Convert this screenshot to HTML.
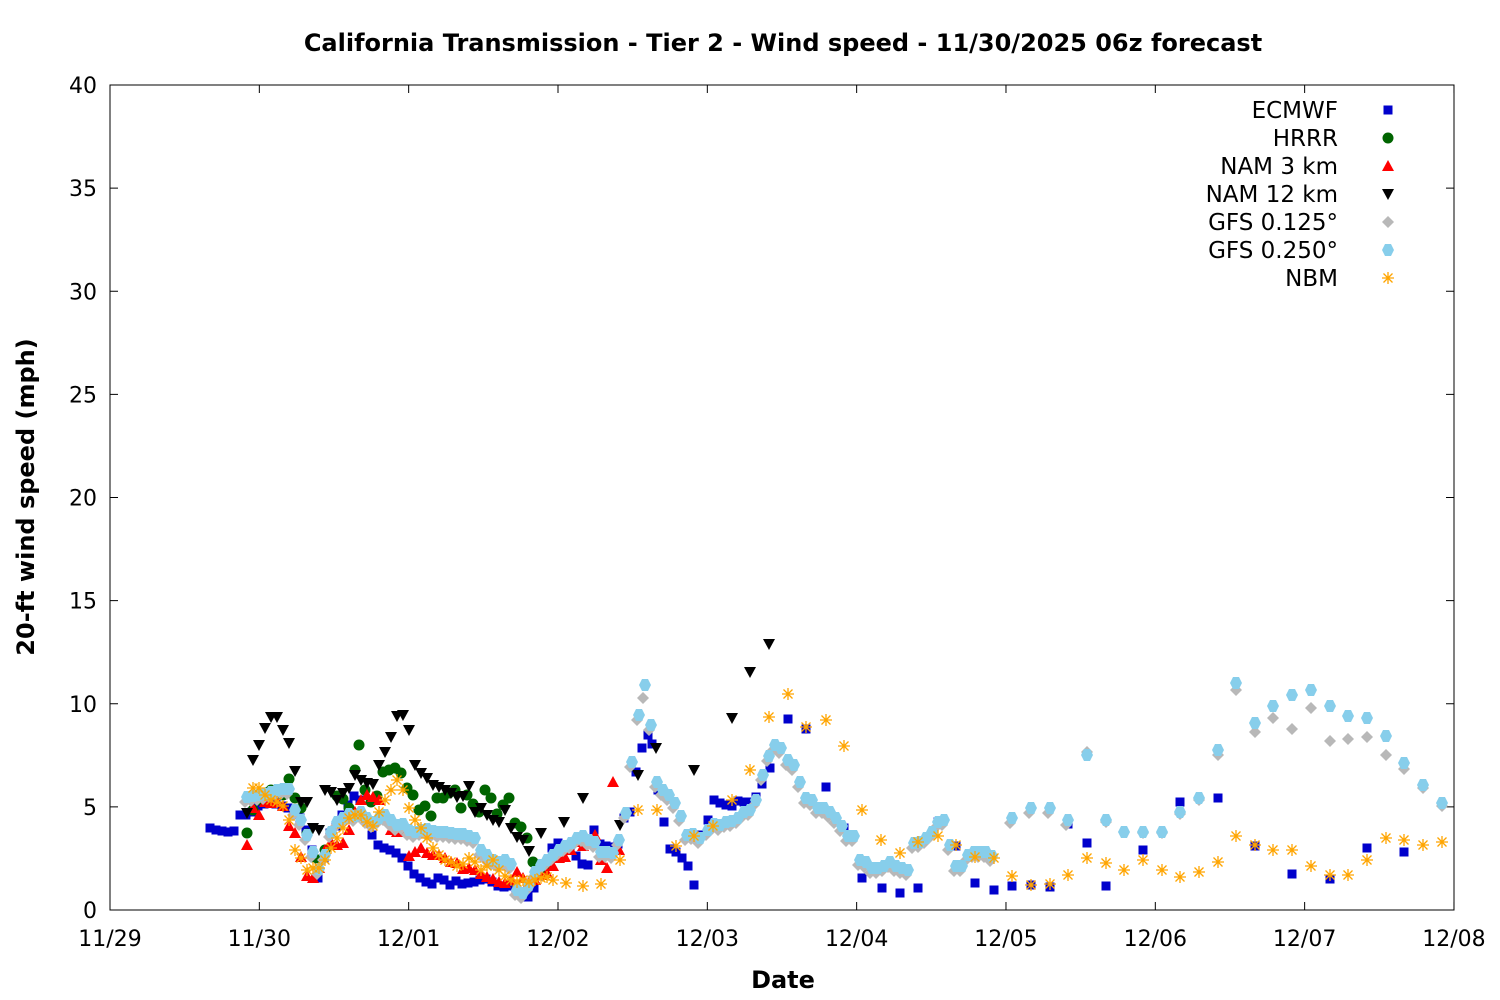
<!DOCTYPE html>
<html><head><meta charset="utf-8"><style>body{margin:0;background:#fff}svg{display:block}text{font-family:"DejaVu Sans","Liberation Sans",sans-serif}</style></head>
<body>
<svg id="s" width="1500" height="1000" xmlns="http://www.w3.org/2000/svg">
<rect width="1500" height="1000" fill="#fff"/>
<text x="783" y="51" font-size="24" font-weight="bold" text-anchor="middle">California Transmission - Tier 2 - Wind speed - 11/30/2025 06z forecast</text>
<text x="783" y="988" font-size="24" font-weight="bold" text-anchor="middle">Date</text>
<text transform="translate(34,497) rotate(-90)" font-size="24" font-weight="bold" text-anchor="middle">20-ft wind speed (mph)</text>
<g id="ax"></g>
<g id="pts"></g>
<g id="leg" font-size="23" text-anchor="end"></g>
</svg>
<script>
const NS="http://www.w3.org/2000/svg";
function el(t,a,p){const e=document.createElementNS(NS,t);for(const k in a)e.setAttribute(k,a[k]);(p||document.getElementById('pts')).appendChild(e);return e;}
const ax=document.getElementById('ax');
el('rect',{x:110,y:85,width:1344,height:825,fill:'none',stroke:'#000','stroke-width':1},ax);
for(let i=0;i<=8;i++){const y=910-i*103.125;el('line',{x1:110,x2:118,y1:y,y2:y,stroke:'#000'},ax);el('line',{x1:1446,x2:1454,y1:y,y2:y,stroke:'#000'},ax);
const t=el('text',{x:97,y:y+8,'font-size':22,'text-anchor':'end'},ax);t.textContent=i*5;}
const xl=['11/29','11/30','12/01','12/02','12/03','12/04','12/05','12/06','12/07','12/08'];
for(let i=0;i<=9;i++){const x=110+i*149.33;el('line',{x1:x,x2:x,y1:910,y2:902,stroke:'#000'},ax);el('line',{x1:x,x2:x,y1:85,y2:93,stroke:'#000'},ax);
const t=el('text',{x:x,y:946,'font-size':22,'text-anchor':'middle'},ax);t.textContent=xl[i];}
function P(s){const a=s.split(/[(),\s]+/).filter(x=>x).map(Number);const r=[];for(let i=0;i<a.length;i+=2)r.push([a[i],a[i+1]]);return r;}
const M={
sq:(x,y,c,g)=>el('rect',{x:x-4.5,y:y-4.5,width:9,height:9,fill:c},g),
ci:(x,y,c,g)=>el('circle',{cx:x,cy:y,r:5.5,fill:c},g),
tu:(x,y,c,g)=>el('polygon',{points:`${x},${y-6} ${x+6},${y+5} ${x-6},${y+5}`,fill:c},g),
td:(x,y,c,g)=>el('polygon',{points:`${x},${y+6} ${x+6},${y-5} ${x-6},${y-5}`,fill:c},g),
di:(x,y,c,g)=>el('polygon',{points:`${x},${y-6} ${x+6},${y} ${x},${y+6} ${x-6},${y}`,fill:c},g),
hx:(x,y,c,g)=>el('polygon',{points:`${x-3},${y-6} ${x+3},${y-6} ${x+6},${y} ${x+3},${y+6} ${x-3},${y+6} ${x-6},${y}`,fill:c},g),
as:(x,y,c,g)=>{el('path',{d:`M${x-6} ${y}H${x+6}M${x} ${y-6}V${y+6}M${x-4.5} ${y-4.5}L${x+4.5} ${y+4.5}M${x-4.5} ${y+4.5}L${x+4.5} ${y-4.5}`,stroke:c,'stroke-width':1.3,fill:'none'},g);}
};
const ec=P("(210,828),(216,830),(222,831),(228,832),(234,831),(240,815),(246,815),(252,812),(258,806),(264,804),(270,803),(276,804),(282,806),(288,808),(294,812),(300,818),(306,830),(312,850),(318,878),(324,858),(330,833),(336,826),(342,815),(348,805),(354,796),(360,800),(366,818),(372,835),(378,845),(384,848),(390,850),(396,853),(402,858),(408,866),(414,874),(420,878),(426,882),(432,884),(438,878),(444,880),(450,885),(456,881),(462,884),(468,883),(474,882),(480,880),(486,879),(492,882),(498,886),(504,887),(510,886),(516,890),(522,894),(528,897),(534,888),(540,876),(546,866),(552,848),(558,843),(564,845),(570,850),(576,856),(582,864),(588,865),(594,830),(600,844),(606,846),(612,847),(618,844),(624,818),(630,812),(636,772),(642,748),(648,735),(652,744),(658,790),(664,822),(670,849),(676,852),(682,858),(688,866),(694,885),(700,835),(708,820),(714,800),(720,803),(726,805),(732,806),(738,801),(744,802),(750,802),(756,797),(762,784),(770,768),(788,719),(806,729),(826,787),(844,828),(862,878),(882,888),(900,893),(918,888),(938,822),(956,846),(975,883),(994,890),(1012,886),(1031,885),(1050,887),(1068,824),(1087,843),(1106,886),(1143,850),(1180,802),(1218,798),(1255,846),(1292,874),(1330,879),(1367,848),(1404,852)");
const hr=P("(247,833),(253,810),(259,800),(265,793),(271,790),(277,793),(283,795),(289,779),(295,798),(301,808),(307,834),(313,857),(319,860),(325,850),(331,832),(337,796),(343,799),(349,808),(355,770),(359,745),(365,790),(371,802),(377,796),(383,772),(389,770),(395,768),(401,773),(407,788),(413,795),(419,810),(425,806),(431,816),(437,798),(443,798),(449,793),(455,790),(461,808),(467,795),(473,804),(479,812),(485,790),(491,798),(497,814),(503,805),(509,798),(515,823),(521,827),(527,838),(533,862),(539,873),(545,867)");
const n3=P("(247,845),(253,808),(259,815),(265,802),(271,803),(277,802),(283,806),(289,826),(295,833),(301,857),(307,876),(313,878),(319,868),(325,850),(331,842),(337,845),(343,843),(349,830),(355,812),(361,800),(367,795),(373,797),(379,800),(385,815),(391,830),(397,832),(403,830),(409,856),(415,852),(421,848),(427,853),(433,855),(439,855),(445,858),(451,862),(457,863),(463,869),(469,868),(475,870),(481,874),(487,877),(493,879),(499,882),(505,883),(511,880),(517,872),(523,878),(529,882),(535,880),(541,875),(547,873),(553,866),(559,858),(565,857),(571,850),(577,842),(583,846),(589,840),(595,835),(601,860),(607,868),(613,782),(619,850)");
const n12=P("(247,813),(253,760),(259,745),(265,728),(271,717),(277,717),(283,730),(289,743),(295,771),(301,802),(307,802),(313,828),(319,830),(325,790),(331,792),(337,800),(343,793),(349,788),(355,775),(361,780),(367,783),(373,784),(379,765),(385,752),(391,737),(397,716),(403,715),(409,730),(415,765),(421,773),(427,778),(433,785),(439,787),(445,790),(451,793),(457,797),(463,796),(469,786),(475,812),(481,808),(487,815),(493,820),(499,822),(505,810),(511,828),(517,837),(523,840),(529,851),(541,833),(564,822),(583,798),(620,825),(638,775),(656,748),(694,770),(732,718),(750,672),(769,644)");
const g25=P("(247,797),(253,796),(259,795),(265,794),(271,792),(277,790),(283,789),(289,789),(295,810),(301,820),(307,835),(313,852),(319,869),(325,855),(331,832),(337,822),(343,818),(349,814),(355,816),(361,812),(367,818),(373,822),(379,818),(385,815),(391,820),(397,825),(403,824),(409,830),(415,832),(421,830),(427,829),(433,831),(439,832),(445,832),(451,833),(457,834),(463,834),(469,836),(475,838),(481,850),(487,855),(493,860),(499,862),(505,860),(511,864),(517,890),(523,893),(529,885),(535,872),(541,865),(547,860),(553,855),(559,850),(565,846),(571,843),(577,838),(583,836),(589,840),(595,842),(601,852),(607,852),(613,853),(619,840),(626,813),(632,762),(639,715),(645,685),(651,725),(657,782),(663,790),(669,795),(675,803),(681,816),(687,835),(693,834),(700,838),(708,830),(714,824),(720,825),(726,822),(732,821),(738,818),(744,812),(750,810),(756,800),(763,775),(769,756),(775,745),(781,748),(788,760),(794,765),(800,782),(806,798),(812,800),(818,808),(824,808),(830,812),(836,818),(842,826),(848,836),(854,836),(860,860),(866,862),(872,868),(878,868),(884,866),(890,862),(896,866),(902,868),(908,870),(914,843),(920,842),(926,838),(932,832),(938,822),(944,820),(950,845),(956,866),(962,866),(968,855),(974,852),(980,852),(986,852),(992,856),(1012,818),(1031,808),(1050,808),(1068,820),(1087,755),(1106,820),(1124,832),(1143,832),(1162,832),(1180,812),(1199,798),(1218,750),(1236,683),(1255,723),(1273,706),(1292,695),(1311,690),(1330,706),(1348,716),(1367,718),(1386,736),(1404,763),(1423,785),(1442,803)");
const g125=g25.filter(p=>p[0]<1080).map(p=>[p[0]-2,p[1]+5]).concat(P("(1087,752),(1106,822),(1124,832),(1143,833),(1162,833),(1180,814),(1199,800),(1218,755),(1236,690),(1255,732),(1273,718),(1292,729),(1311,708),(1330,741),(1348,739),(1367,737),(1386,755),(1404,769),(1423,788),(1442,806)"));
g125.forEach(p=>{if(p[0]>=643&&p[0]<=647)p[1]=698;if(p[0]>=636&&p[0]<=638)p[1]=720;});
const nb=P("(253,788),(259,788),(265,795),(271,800),(277,802),(283,806),(289,820),(295,850),(301,858),(307,870),(313,868),(319,868),(325,860),(331,848),(337,838),(343,828),(349,818),(355,815),(361,815),(367,822),(373,826),(379,812),(385,800),(391,790),(397,780),(403,790),(409,808),(415,820),(421,828),(427,838),(433,848),(439,855),(445,860),(451,862),(457,866),(463,864),(469,858),(475,862),(481,870),(487,866),(493,860),(499,870),(505,876),(511,880),(517,882),(523,880),(529,882),(535,880),(541,878),(547,877),(553,880),(566,883),(583,886),(601,884),(620,860),(638,810),(657,810),(676,846),(694,836),(713,826),(732,800),(750,770),(769,717),(788,694),(806,727),(826,720),(844,746),(862,810),(881,840),(900,853),(918,842),(938,836),(956,845),(975,857),(994,858),(1012,876),(1031,885),(1050,884),(1068,875),(1087,858),(1106,863),(1124,870),(1143,860),(1162,870),(1180,877),(1199,872),(1218,862),(1236,836),(1255,845),(1273,850),(1292,850),(1311,866),(1330,875),(1348,875),(1367,860),(1386,838),(1404,840),(1423,845),(1442,842)");
const S=[["ECMWF",ec,'sq','#0000cc'],["HRRR",hr,'ci','#006400'],["NAM 3 km",n3,'tu','#ff0000'],["NAM 12 km",n12,'td','#000000'],["GFS 0.125°",g125,'di','#b8b8b8'],["GFS 0.250°",g25,'hx','#87ceeb'],["NBM",nb,'as','#ffa500']];
const leg=document.getElementById('leg');
S.forEach((s,i)=>{s[1].forEach(p=>M[s[2]](p[0],p[1],s[3]));const y=110+i*28;const t=el('text',{x:1338,y:y+8},leg);t.textContent=s[0];M[s[2]](1388,y,s[3],leg);});
</script>
</body></html>
